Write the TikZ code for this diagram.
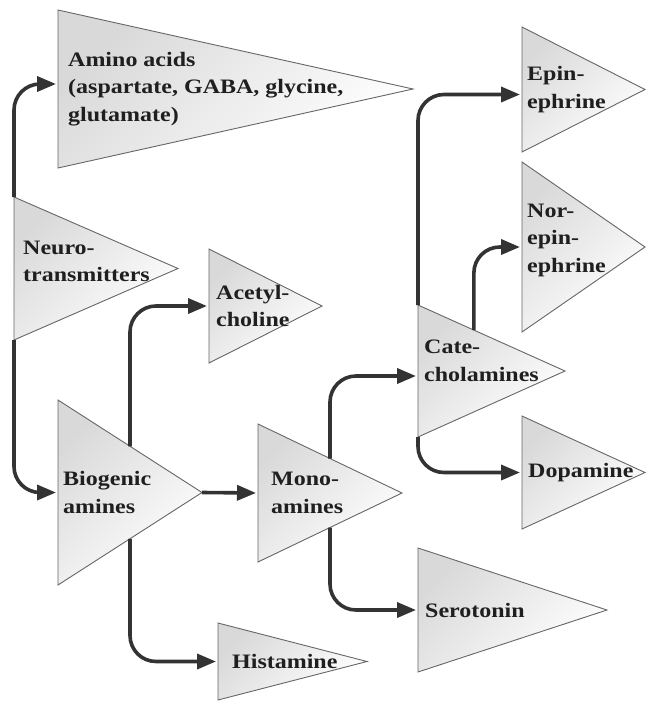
\documentclass[tikz,border=0pt]{standalone}
\usepackage{fontspec}
\setmainfont{Liberation Serif}[FakeStretch=1.17]
\usetikzlibrary{positioning,arrows.meta,shapes.geometric,calc}

\begin{document}
\begin{tikzpicture}[x=1pt, y=-1pt, >={Triangle[length=19pt,width=15pt]},
  tri/.style={draw=black!60, line width=0.9pt, isosceles triangle, isosceles triangle stretches,
    shape border rotate=0, inner sep=0pt, outer sep=0pt, anchor=lower side,
    top color=gray!30, bottom color=white, shading angle=45},
  lbl/.style={align=left, inner sep=0pt, text=black!88, font=\fontsize{20.5}{27.5}\selectfont\bfseries},
  link/.style={->, draw=black!80, line width=3.6pt, rounded corners=26pt, shorten >=2pt}]
  \useasboundingbox (0,0) rectangle (646,702);

  % triangles (width = base, height = depth to the apex)
  \node[tri, minimum height=355pt, minimum width=158pt] (amino) at (58,89) {};
  \node[tri, minimum height=164pt, minimum width=143pt] (neuro) at (14,268.5) {};
  \node[tri, minimum height=113pt, minimum width=114pt] (acetyl) at (209,306) {};
  \node[tri, minimum height=144pt, minimum width=185pt] (bio) at (58,492.5) {};
  \node[tri, minimum height=144pt, minimum width=138pt] (mono) at (258,493) {};
  \node[tri, minimum height=149pt, minimum width=77pt] (hist) at (218,661.5) {};
  \node[tri, minimum height=147pt, minimum width=132pt] (cate) at (418,371) {};
  \node[tri, minimum height=123pt, minimum width=113pt] (dopa) at (522,472.5) {};
  \node[tri, minimum height=189pt, minimum width=124pt] (sero) at (418,610) {};
  \node[tri, minimum height=123pt, minimum width=125pt] (epi) at (522,89.5) {};
  \node[tri, minimum height=123pt, minimum width=170pt] (nor) at (522,247) {};

  % labels
  \node[lbl, right=10pt of amino.lower side] (amino-t) {Amino acids\\(aspartate, GABA, glycine,\\glutamate)};
  \node[lbl, right=9pt of neuro.lower side, yshift=7pt] (neuro-t) {Neuro-\\transmitters};
  \node[lbl, right=7pt of acetyl.lower side] (acetyl-t) {Acetyl-\\choline};
  \node[lbl, right=5pt of bio.lower side] (bio-t) {Biogenic\\amines};
  \node[lbl, right=13pt of mono.lower side] (mono-t) {Mono-\\amines};
  \node[lbl, right=14pt of hist.lower side] (hist-t) {Histamine};
  \node[lbl, right=6pt of cate.lower side, yshift=10pt] (cate-t) {Cate-\\cholamines};
  \node[lbl, right=6pt of dopa.lower side] (dopa-t) {Dopamine};
  \node[lbl, right=7pt of sero.lower side] (sero-t) {Serotonin};
  \node[lbl, right=5pt of epi.lower side] (epi-t) {Epin-\\ephrine};
  \node[lbl, right=5pt of nor.lower side, yshift=7pt] (nor-t) {Nor-\\epin-\\ephrine};

  % connectors
  \draw[link] (neuro.left corner) |- ([yshift=5pt]amino.lower side);
  \draw[link] (neuro.right corner) |- (bio.lower side);
  \draw[link] (bio.left side) |- (acetyl.lower side);
  \draw[link] (bio.apex) -- (mono.lower side);
  \draw[link] (bio.right side) |- (hist.lower side);
  \draw[link] (mono.left side) |- ([yshift=-5pt]cate.lower side);
  \draw[link] (mono.right side) |- (sero.lower side);
  \draw[link] (cate.left corner) |- ([yshift=-5pt]epi.lower side);
  \draw[link] ($(cate.left corner)!0.38!(cate.apex)$) |- (nor.lower side);
  \draw[link] (cate.right corner) |- (dopa.lower side);
\end{tikzpicture}
\end{document}
